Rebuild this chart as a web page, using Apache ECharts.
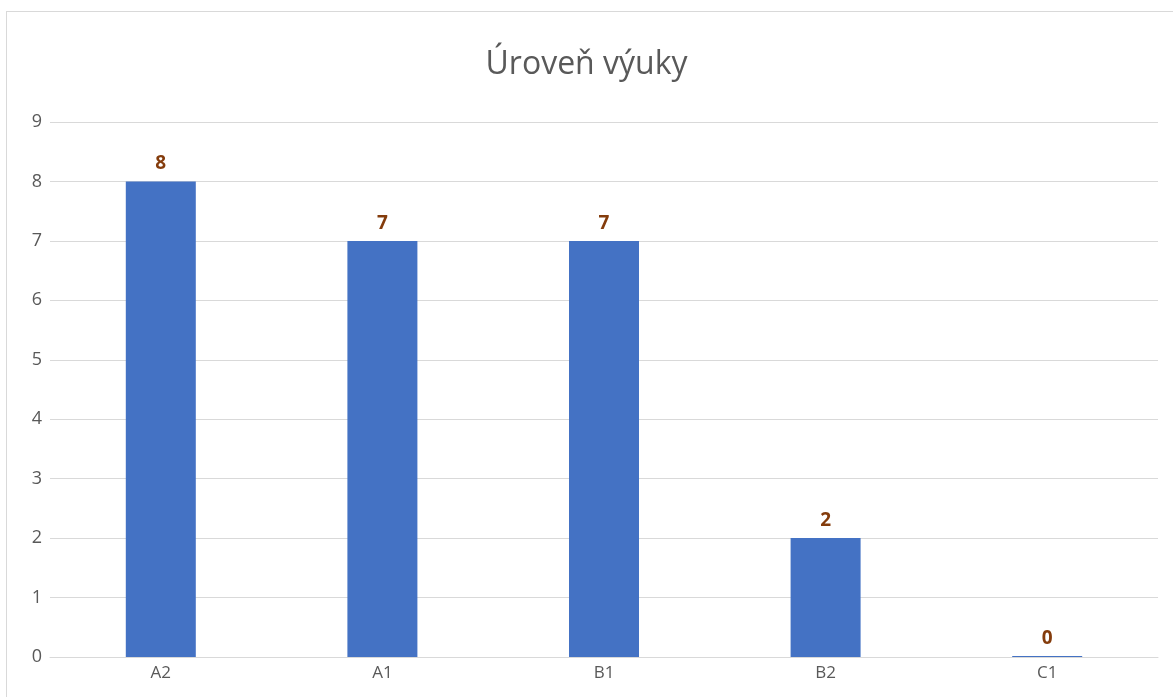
<!DOCTYPE html>
<html><head><meta charset="utf-8">
<script src="https://cdn.jsdelivr.net/npm/echarts@6/dist/echarts.min.js"></script>
<style>
html,body{margin:0;padding:0;background:#fff;overflow:hidden;}
#frame{position:absolute;left:6px;top:11px;width:1180px;height:700px;border:1px solid #d9d9d9;box-sizing:border-box;}
#c{position:absolute;left:0;top:0;width:1173px;height:697px;}
</style></head>
<body>
<div id="frame"></div>
<div id="c"></div>
<script>
const title = 'Úroveň výuky';
const categories = ['A2', 'A1', 'B1', 'B2', 'C1'];
const values = [8, 7, 7, 2, 0];
const yTicks = {min: 0, max: 9, interval: 1};

const chart = echarts.init(document.getElementById('c'));
const font = '"Open Sans", "Noto Sans", sans-serif';
chart.setOption({
  animation: false,
  title: {text: title, left: 'center', top: 44, textStyle: {fontFamily: font, fontWeight: 'normal', fontSize: 32, color: '#595959'}},
  grid: {left: 50, right: 15, top: 122, bottom: 40},
  xAxis: {
    type: 'category', data: categories,
    axisLine: {lineStyle: {color: '#d9d9d9', width: 1}},
    axisTick: {show: false},
    axisLabel: {fontFamily: font, fontSize: 17, color: '#595959', margin: 8}
  },
  yAxis: {
    type: 'value', min: yTicks.min, max: yTicks.max, interval: yTicks.interval,
    axisLine: {show: false}, axisTick: {show: false},
    splitLine: {lineStyle: {color: '#d9d9d9', width: 1}},
    axisLabel: {fontFamily: font, fontSize: 18, color: '#595959', margin: 8}
  },
  series: [{
    type: 'bar', data: values, barWidth: 70, barMinHeight: 1,
    itemStyle: {color: '#4472c4'},
    label: {show: true, position: 'top', distance: 8, fontFamily: font, fontWeight: 'bold', fontSize: 19, color: '#843c0c'}
  }]
});
</script>
</body></html>
